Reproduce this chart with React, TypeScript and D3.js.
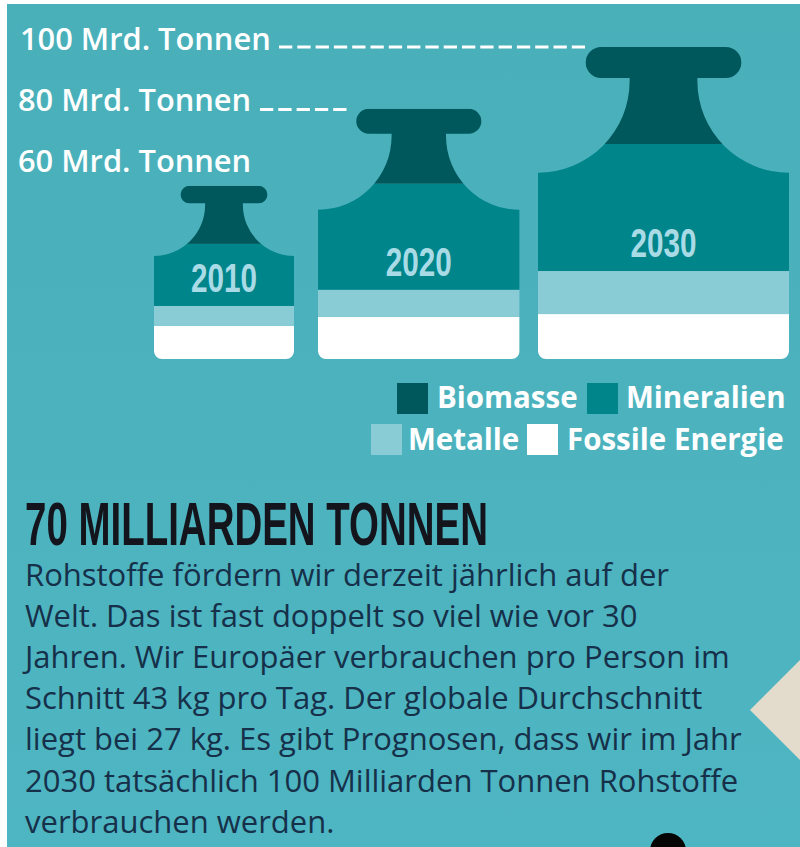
import * as d3 from "d3";

// values, Mrd. Tonnen (drawn heights, the 2010 weight is drawn short of 60)
const years = [2010, 2020, 2030];
const fossil = [10.6, 13.5, 14.4];
const metalle = [6.4, 8.7, 13.8];
const mineralien = [19.9, 34, 40.7];
const biomasse = [18.6, 24, 31.1];
const ticks = [100, 80, 60];
const seriesKeys = ["fossil", "metalle", "mineralien", "biomasse"];

const legendRows = [
  [["Biomasse", "biomasse"], ["Mineralien", "mineralien"]],
  [["Metalle", "metalle"], ["Fossile Energie", "fossil"]],
];
const bodyLines = [
  "Rohstoffe fördern wir derzeit jährlich auf der",
  "Welt. Das ist fast doppelt so viel wie vor 30",
  "Jahren. Wir Europäer verbrauchen pro Person im",
  "Schnitt 43 kg pro Tag. Der globale Durchschnitt",
  "liegt bei 27 kg. Es gibt Prognosen, dass wir im Jahr",
  "2030 tatsächlich 100 Milliarden Tonnen Rohstoffe",
  "verbrauchen werden.",
];

const colors: Record<string, string> = {
  biomasse: "#00585c",
  mineralien: "#00858a",
  metalle: "#8accd6",
  fossil: "#ffffff",
};
const sans = "'Open Sans', sans-serif";

const rows = years.map((year, i) => ({
  year,
  fossil: fossil[i],
  metalle: metalle[i],
  mineralien: mineralien[i],
  biomasse: biomasse[i],
}));
const stacked = d3.stack<any>().keys(seriesKeys)(rows);
const totals = rows.map((_, i) => stacked[stacked.length - 1][i][1]);

const y = d3.scaleLinear().domain([0, 100]).range([359, 47]);
const width = d3.scaleLinear().domain([55.5, 100]).range([140, 251]);
const left = d3.scaleLinear().domain(years).range([154, 318, 538]);

// kettle weight outline, all proportions taken from the width of the body
function weightPath(x0: number, w: number, top: number, bottom: number) {
  const cx = x0 + w / 2;
  const barH = 0.124 * w;
  const barW = 0.62 * w;
  const neck = 0.135 * w;
  const cy = top + barH + 0.012 * w;
  const r = 0.365 * w;
  const c = 8;
  const p = d3.path();
  p.moveTo(cx - barW / 2 + barH / 2, top);
  p.lineTo(cx + barW / 2 - barH / 2, top);
  p.arc(cx + barW / 2 - barH / 2, top + barH / 2, barH / 2, -Math.PI / 2, Math.PI / 2);
  p.lineTo(cx + neck, top + barH);
  p.lineTo(cx + neck, cy);
  p.arc(x0 + w, cy, r, Math.PI, Math.PI / 2, true);
  p.lineTo(x0 + w, bottom - c);
  p.arc(x0 + w - c, bottom - c, c, 0, Math.PI / 2);
  p.lineTo(x0 + c, bottom);
  p.arc(x0 + c, bottom - c, c, Math.PI / 2, Math.PI);
  p.lineTo(x0, cy + r);
  p.arc(x0, cy, r, Math.PI / 2, 0, true);
  p.lineTo(cx - neck, top + barH);
  p.lineTo(cx - barW / 2 + barH / 2, top + barH);
  p.arc(cx - barW / 2 + barH / 2, top + barH / 2, barH / 2, Math.PI / 2, -Math.PI / 2);
  p.closePath();
  return p.toString();
}

const tickX: Record<number, number> = { 100: 20, 80: 18, 60: 18 };
const tickTextY: Record<number, number> = { 100: 50, 80: 111, 60: 172 };
const dashEnd: Record<number, [number, number]> = { 100: [279, 585], 80: [260, 348] };

export default function App() {
  return (
    <svg
      width={800}
      height={847}
      style={{ position: "absolute", left: 0, top: 0, background: "#fff" }}
    >
      <defs>
        <linearGradient id="bg" x1="0" y1="0" x2="0" y2="1">
          <stop offset="0" stopColor="#49b0ba" />
          <stop offset="1" stopColor="#4eb5c2" />
        </linearGradient>
        {rows.map((d, i) => (
          <clipPath id={`w${d.year}`} key={d.year}>
            <path d={weightPath(left(d.year), width(totals[i]), y(totals[i]), y(0))} />
          </clipPath>
        ))}
      </defs>
      <rect x={7} y={4} width={793} height={843} fill="url(#bg)" />

      {/* decoration cut off by the crop */}
      <polygon points="750,710 800,660 800,760" fill="#e3dccd" />
      <circle cx={668} cy={851} r={18} fill="#050505" />

      {/* weights */}
      {stacked.map((s) => (
        <g key={s.key} fill={colors[s.key]}>
          {s.map((p, i) => (
            <rect
              key={years[i]}
              x={left(years[i])}
              width={width(totals[i])}
              y={y(p[1])}
              height={y(p[0]) - y(p[1])}
              clipPath={`url(#w${years[i]})`}
            />
          ))}
        </g>
      ))}
      {rows.map((d, i) => (
        <text
          key={d.year}
          x={left(d.year) + width(totals[i]) / 2}
          y={y(stacked[1][i][1]) - 14}
          fill="#a9dbe6"
          fontFamily="'Liberation Sans', sans-serif"
          fontWeight={700}
          fontSize={40}
          textAnchor="middle"
          textLength={66}
          lengthAdjust="spacingAndGlyphs"
        >
          {d.year}
        </text>
      ))}

      {/* scale labels */}
      {ticks.map((t) => (
        <g key={t}>
          <text
            x={tickX[t]}
            y={tickTextY[t]}
            fill="#fff"
            fontFamily={sans}
            fontWeight={600}
            fontSize={30.8}
          >
            {t} Mrd. Tonnen
          </text>
          {dashEnd[t] && (
            <line
              x1={dashEnd[t][0]}
              x2={dashEnd[t][1]}
              y1={y(t)}
              y2={y(t)}
              stroke="#fff"
              strokeWidth={3}
              strokeDasharray="13.3 5"
            />
          )}
        </g>
      ))}

      {/* legend */}
      {legendRows.map((row, r) => {
        const boxes = r === 0 ? [397, 587] : [371, 527];
        const textX = r === 0 ? [437, 626] : [408, 567];
        const boxY = r === 0 ? 383 : 424;
        return row.map(([label, key], i) => (
          <g key={key}>
            <rect x={boxes[i]} y={boxY} width={31} height={31} fill={colors[key]} />
            <text
              x={textX[i]}
              y={boxY + 25 + r}
              fill="#fff"
              fontFamily={sans}
              fontWeight={700}
              fontSize={29.5}
            >
              {label}
            </text>
          </g>
        ));
      })}

      {/* copy */}
      <text
        x={25}
        y={545}
        fill="#14141c"
        fontFamily="'Liberation Sans', sans-serif"
        fontWeight={700}
        fontSize={62}
        textLength={463}
        lengthAdjust="spacingAndGlyphs"
      >
        70 MILLIARDEN TONNEN
      </text>
      {bodyLines.map((line, i) => (
        <text
          key={line}
          x={25}
          y={586 + i * 41.1}
          fill="#16304a"
          fontFamily={sans}
          fontSize={31}
        >
          {line}
        </text>
      ))}
    </svg>
  );
}
